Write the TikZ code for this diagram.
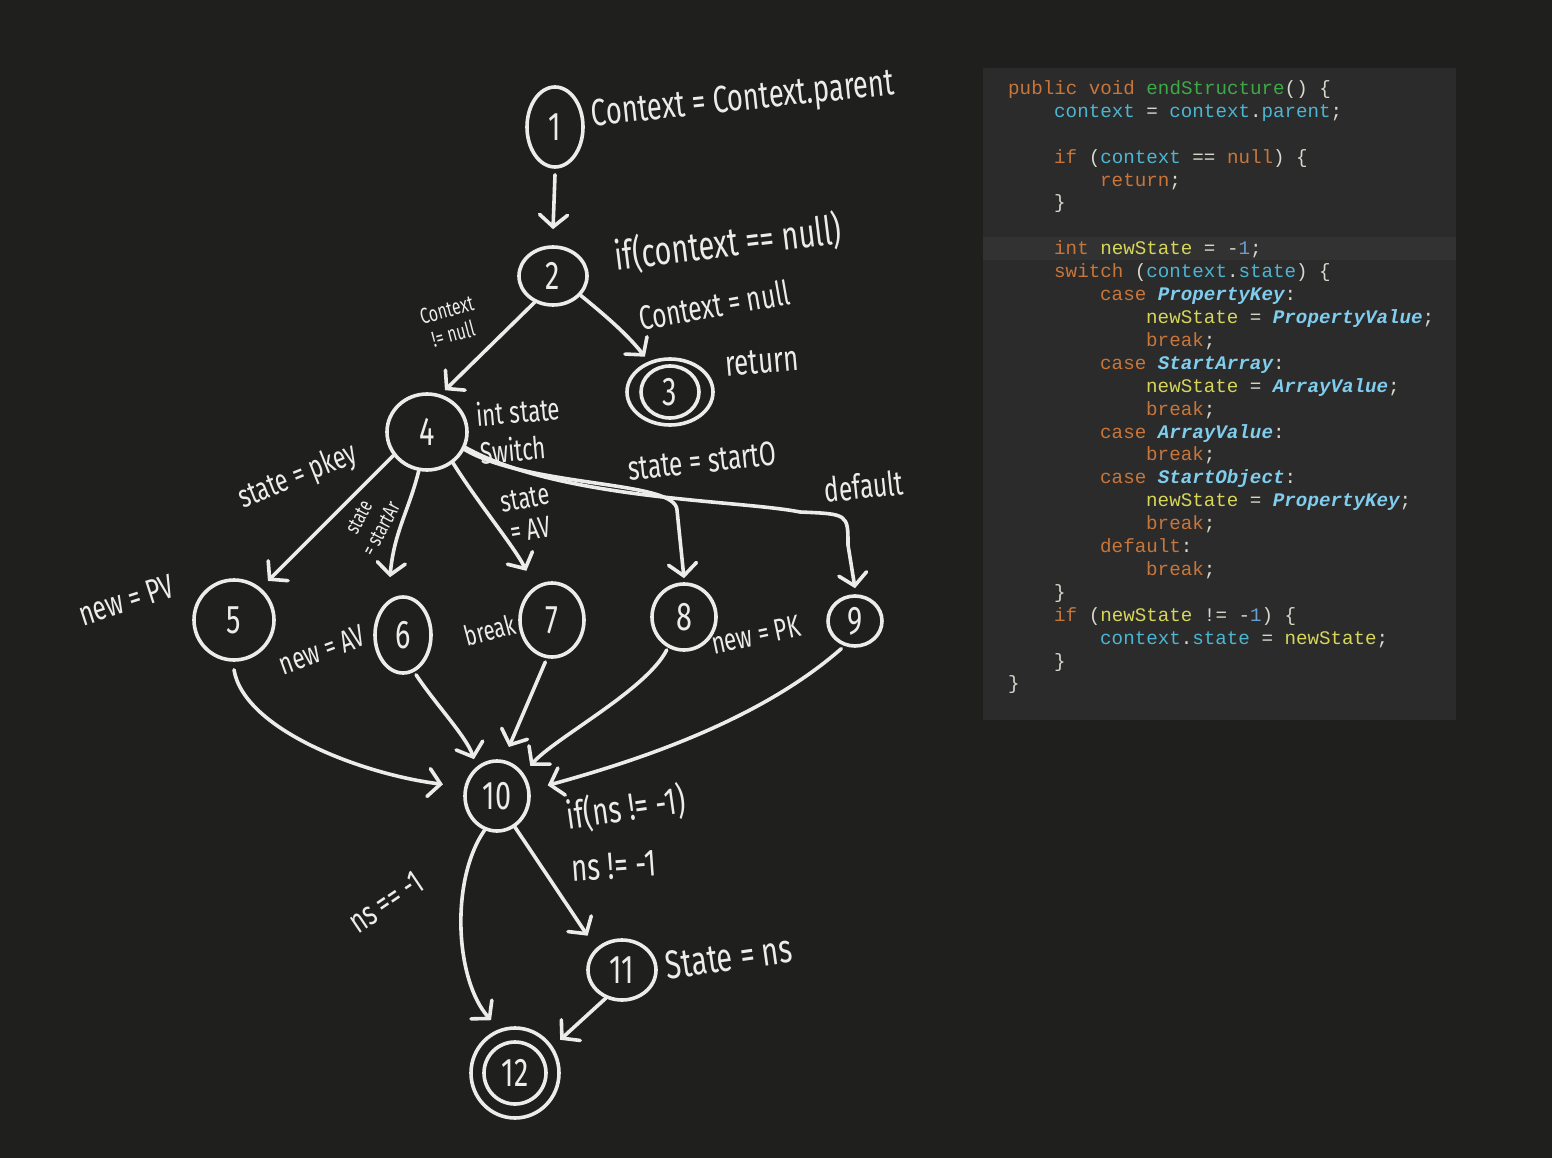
\documentclass[tikz,border=0pt]{standalone}
\usepackage{fontspec}
\usetikzlibrary{arrows.meta,shapes.geometric}
\newfontfamily\hand[FakeStretch=0.72]{Fira Sans}
\newfontfamily\codefont{Liberation Mono}
\definecolor{bg}{HTML}{1F1F1D}
\definecolor{panel}{HTML}{2B2B2B}
\definecolor{hl}{HTML}{323232}
\definecolor{chalk}{HTML}{ECECEA}
\definecolor{kw}{HTML}{C8763A}
\definecolor{fn}{HTML}{3DAA48}
\definecolor{ctx}{HTML}{4CB6D2}
\definecolor{var}{HTML}{D6D65A}
\definecolor{enm}{HTML}{80CDEE}
\definecolor{pun}{HTML}{D8D8CC}
\definecolor{num}{HTML}{6A9FD0}
\newcommand\cK[1]{\textcolor{kw}{#1}}
\newcommand\cF[1]{\textcolor{fn}{#1}}
\newcommand\cC[1]{\textcolor{ctx}{#1}}
\newcommand\cV[1]{\textcolor{var}{#1}}
\newcommand\cE[1]{\textcolor{enm}{\bfseries\itshape #1}}
\newcommand\cP[1]{\textcolor{pun}{#1}}
\newcommand\cN[1]{\textcolor{num}{#1}}
\tikzset{
  st/.style={ellipse, draw=chalk, line width=3.6pt, inner sep=0pt, text=chalk,
    font=\hand\fontsize{40}{40}\selectfont},
  arr/.style={draw=chalk, line width=3.6pt, line cap=round, line join=round,
    -{Straight Barb[length=12pt,width=28pt,line cap=round]}},
  lbl/.style={text=chalk, inner sep=1pt, align=center},
  cl/.style={anchor=base west, inner sep=0pt, text=pun,
    font=\codefont\fontsize{19.2}{23}\selectfont},
}
\begin{document}
\begin{tikzpicture}[x=1pt,y=-1pt]
\useasboundingbox (0,0) rectangle (1552,1158);
\fill[bg] (0,0) rectangle (1552,1158);
% code panel
\fill[panel] (983,68) rectangle (1456,720);
\fill[hl] (983,237) rectangle (1456,260);
\node[cl] (c0) at (1008,94.5) {\cK{public void} \cF{endStructure}\cP{() \{}};
\node[cl] (c1) at (1054,117.4) {\cC{context} \cP{=} \cC{context}\cP{.}\cC{parent}\cP{;}};
\node[cl] (c3) at (1054,163.2) {\cK{if} \cP{(}\cC{context} \cP{==} \cK{null}\cP{) \{}};
\node[cl] (c4) at (1100,186.1) {\cK{return}\cP{;}};
\node[cl] (c5) at (1054,209.0) {\cP{\}}};
\node[cl] (c7) at (1054,254.8) {\cK{int} \cV{newState} \cP{= -}\cN{1}\cP{;}};
\node[cl] (c8) at (1054,277.7) {\cK{switch} \cP{(}\cC{context}\cP{.}\cC{state}\cP{) \{}};
\node[cl] (c9) at (1100,300.6) {\cK{case} \cE{PropertyKey}\cP{:}};
\node[cl] (c10) at (1146,323.5) {\cV{newState} \cP{=} \cE{PropertyValue}\cP{;}};
\node[cl] (c11) at (1146,346.4) {\cK{break}\cP{;}};
\node[cl] (c12) at (1100,369.3) {\cK{case} \cE{StartArray}\cP{:}};
\node[cl] (c13) at (1146,392.2) {\cV{newState} \cP{=} \cE{ArrayValue}\cP{;}};
\node[cl] (c14) at (1146,415.1) {\cK{break}\cP{;}};
\node[cl] (c15) at (1100,438.0) {\cK{case} \cE{ArrayValue}\cP{:}};
\node[cl] (c16) at (1146,460.9) {\cK{break}\cP{;}};
\node[cl] (c17) at (1100,483.8) {\cK{case} \cE{StartObject}\cP{:}};
\node[cl] (c18) at (1146,506.7) {\cV{newState} \cP{=} \cE{PropertyKey}\cP{;}};
\node[cl] (c19) at (1146,529.6) {\cK{break}\cP{;}};
\node[cl] (c20) at (1100,552.5) {\cK{default}\cP{:}};
\node[cl] (c21) at (1146,575.4) {\cK{break}\cP{;}};
\node[cl] (c22) at (1054,598.3) {\cP{\}}};
\node[cl] (c23) at (1054,621.2) {\cK{if} \cP{(}\cV{newState} \cP{!= -}\cN{1}\cP{) \{}};
\node[cl] (c24) at (1100,644.1) {\cC{context}\cP{.}\cC{state} \cP{=} \cV{newState}\cP{;}};
\node[cl] (c25) at (1054,667.0) {\cP{\}}};
\node[cl] (c26) at (1008,689.9) {\cP{\}}};
% graph nodes
\node[st, minimum width=56pt, minimum height=80pt] (n1) at (555,127) {1};
\node[st, minimum width=68pt, minimum height=58pt] (n2) at (553,276) {2};
\node[st, minimum width=86pt, minimum height=66pt] (n3) at (670,392) {3};
\draw[chalk, line width=3.6pt] (n3.center) ellipse [x radius=29pt, y radius=26pt];
\node[st, minimum width=80pt, minimum height=76pt] (n4) at (427,432) {4};
\node[st, minimum width=80pt, minimum height=80pt] (n5) at (234,620) {5};
\node[st, minimum width=56pt, minimum height=76pt] (n6) at (403,635) {6};
\node[st, minimum width=64pt, minimum height=74pt] (n7) at (552,620) {7};
\node[st, minimum width=64pt, minimum height=66pt] (n8) at (684,617) {8};
\node[st, minimum width=54pt, minimum height=50pt] (n9) at (855,621) {9};
\node[st, minimum width=64pt, minimum height=70pt] (n10) at (497,796) {10};
\node[st, minimum width=68pt, minimum height=60pt] (n11) at (622,970) {11};
\node[st, minimum width=88pt, minimum height=90pt] (n12) at (515,1073) {12};
\draw[chalk, line width=3.6pt] (n12.center) ellipse [x radius=31pt, y radius=31pt];
% connectors
\draw[arr] ([yshift=-6pt]n1.south) -- ([yshift=16pt]n2.north);
\draw[arr, shorten >=6pt] (n2.235) -- (n4.70);
\draw[arr, shorten >=6pt] (n2.-35) .. controls +(22,18) and +(-22,-28) .. (n3.125);
\draw[arr, shorten >=10pt] (n4.215) -- (n5.50);
\draw[arr] (n4.258) .. controls +(-10,40) and +(4,-45) .. ([yshift=22pt]n6.110);
\draw[arr, shorten >=18pt] (n4.-50) .. controls +(25,40) and +(-20,-40) .. (n7.118);
\draw[arr] (n4.-25) .. controls (530,488) and (676,480) .. (677,510) -- ([yshift=4pt]n8.north);
\draw[arr] (n4.-22) .. controls (560,500) and (740,500) .. (800,512)
   .. controls (848,514) .. (848,545) -- ([yshift=6pt]n9.north);
\draw[arr] ([yshift=-8pt]n5.south) .. controls +(10,60) and +(-80,-10) .. ([xshift=-22pt]n10.160);
\draw[arr, shorten >=8pt] ([yshift=-4pt]n6.-70) .. controls +(20,30) and +(-10,-30) .. (n10.125);
\draw[arr, shorten >=14pt] ([yshift=-4pt]n7.-100) -- (n10.80);
\draw[arr, shorten >=10pt] ([yshift=-3pt]n8.-120) .. controls +(-20,40) and +(30,-35) .. (n10.40);
\draw[arr, shorten >=18pt] ([yshift=-4pt]n9.-120) .. controls (760,720) and (640,760) .. (n10.10);
\draw[arr, shorten >=12pt] (n10.-110) .. controls (450,880) and (455,980) .. (n12.110);
\draw[arr, shorten >=15pt] (n10.-60) -- (n11.140);
\draw[arr, shorten >=10pt] (n11.-120) -- (n12.35);
% handwritten labels
\node[lbl, rotate=6, font=\hand\fontsize{38}{38}\selectfont] (l1) at (743,101) {Context = Context.parent};
\node[lbl, rotate=7, font=\hand\fontsize{40}{40}\selectfont] (l2) at (728,243) {if(context == null)};
\node[lbl, rotate=15, font=\hand\fontsize{22}{25}\selectfont] (l24) at (450,322) {Context\\!= null};
\node[lbl, rotate=10, font=\hand\fontsize{34}{34}\selectfont] (l23) at (714,305) {Context = null};
\node[lbl, rotate=5, font=\hand\fontsize{36}{36}\selectfont] (l3) at (762,362) {return};
\node[lbl, rotate=5, align=left, font=\hand\fontsize{31}{38}\selectfont] (l4) at (520,430) {int state\\Switch};
\node[lbl, rotate=22, font=\hand\fontsize{32}{32}\selectfont] (l45) at (298,477) {state = pkey};
\node[lbl, rotate=62, font=\hand\fontsize{21}{25}\selectfont] (l46) at (370,523) {state\\= startAr};
\node[lbl, rotate=10, font=\hand\fontsize{30}{32}\selectfont] (l47) at (528,514) {state\\= AV};
\node[lbl, rotate=6, font=\hand\fontsize{34}{34}\selectfont] (l48) at (702,461) {state = startO};
\node[lbl, rotate=6, font=\hand\fontsize{34}{34}\selectfont] (l49) at (864,486) {default};
\node[lbl, rotate=18, font=\hand\fontsize{34}{34}\selectfont] (l5) at (126,600) {new = PV};
\node[lbl, rotate=20, font=\hand\fontsize{31}{31}\selectfont] (l6) at (322,650) {new = AV};
\node[lbl, rotate=15, font=\hand\fontsize{28}{28}\selectfont] (l7) at (490,630) {break};
\node[lbl, rotate=12, font=\hand\fontsize{31}{31}\selectfont] (l8) at (756,635) {new = PK};
\node[lbl, rotate=8, font=\hand\fontsize{38}{38}\selectfont] (l10) at (626,808) {if(ns != -1)};
\node[lbl, rotate=4, font=\hand\fontsize{38}{38}\selectfont] (l1011) at (614,866) {ns != -1};
\node[lbl, rotate=34, font=\hand\fontsize{34}{34}\selectfont] (l1012) at (386,902) {ns == -1};
\node[lbl, rotate=8, font=\hand\fontsize{40}{40}\selectfont] (l11) at (729,957) {State = ns};
\end{tikzpicture}
\end{document}
